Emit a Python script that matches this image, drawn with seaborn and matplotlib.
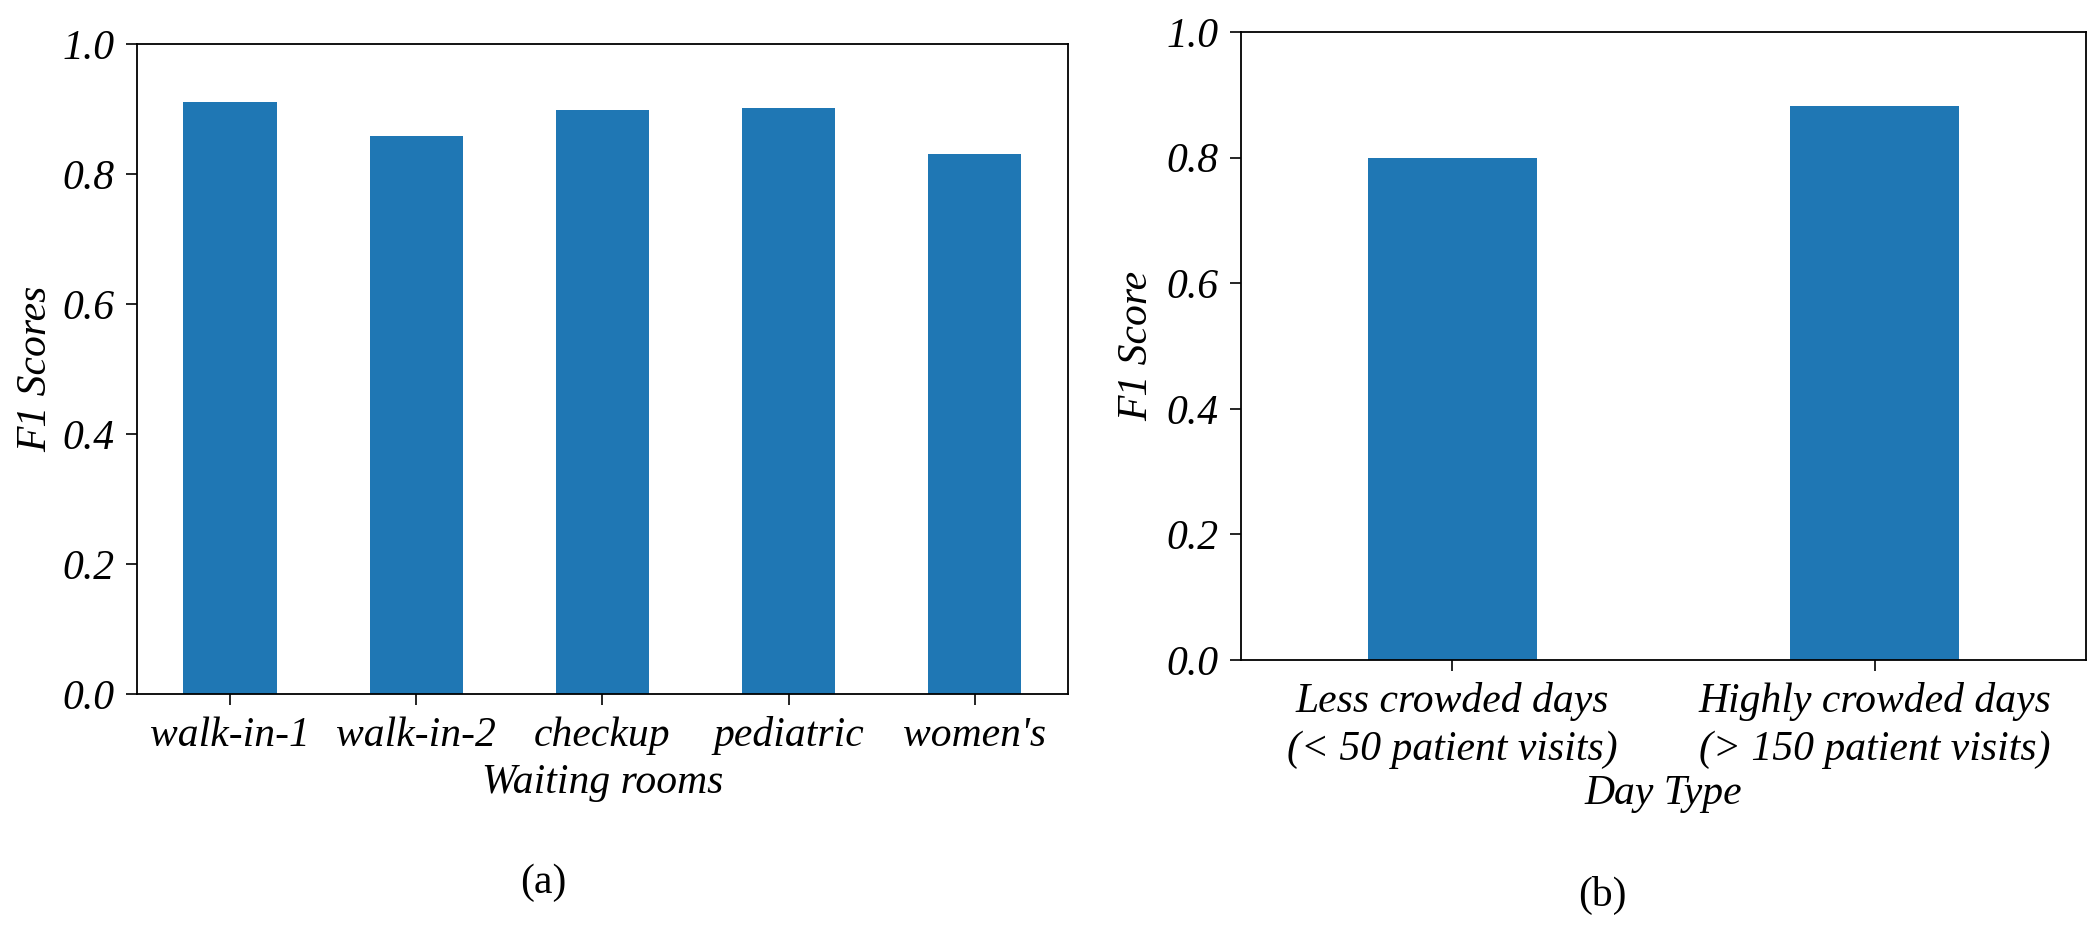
import matplotlib
matplotlib.use("Agg")
import matplotlib.pyplot as plt
import seaborn as sns

# Data
rooms = ["walk-in-1", "walk-in-2", "checkup", "pediatric", "women's"]
room_f1 = [0.911, 0.859, 0.898, 0.902, 0.831]

day_types = ["Less crowded days\n(< 50 patient visits)",
             "Highly crowded days\n(> 150 patient visits)"]
day_f1 = [0.800, 0.882]

yticks = [0.0, 0.2, 0.4, 0.6, 0.8, 1.0]
bar_color = "#1f77b4"
fs = 30

plt.rcParams["font.family"] = ["Liberation Serif", "DejaVu Serif"]
plt.rcParams["axes.linewidth"] = 1.3

fig = plt.figure(figsize=(21, 9.3), dpi=100)
ax1 = fig.add_axes([0.0652, 0.2538, 0.4433, 0.6989])
ax2 = fig.add_axes([0.5910, 0.2903, 0.4024, 0.6753])

# (a) waiting rooms
sns.barplot(x=rooms, y=room_f1, ax=ax1, color=bar_color, saturation=1,
            width=0.5, linewidth=0)
ax1.set_ylim(0, 1.0)
ax1.set_xlim(-0.5, len(rooms) - 0.5)
ax1.set_yticks(yticks)
ax1.set_yticklabels([f"{t:.1f}" for t in yticks])
ax1.set_xlabel("Waiting rooms", fontsize=fs, style="italic")
ax1.set_ylabel("F1 Scores", fontsize=fs, style="italic")
ax1.xaxis.set_label_coords(0.5, -0.107)
ax1.yaxis.set_label_coords(-0.088, 0.5)

# (b) day type
sns.barplot(x=day_types, y=day_f1, ax=ax2, color=bar_color, saturation=1,
            width=0.4, linewidth=0)
ax2.set_ylim(0, 1.0)
ax2.set_xlim(-0.5, len(day_types) - 0.5)
ax2.set_yticks(yticks)
ax2.set_yticklabels([f"{t:.1f}" for t in yticks])
ax2.set_xlabel("Day Type", fontsize=fs, style="italic")
ax2.set_ylabel("F1 Score", fontsize=fs, style="italic")
ax2.xaxis.set_label_coords(0.5, -0.183)
ax2.yaxis.set_label_coords(-0.1, 0.5)

for ax in (ax1, ax2):
    ax.tick_params(axis="both", direction="out", length=8, width=1.2,
                   labelsize=fs, pad=8)
    for lab in ax.get_xticklabels() + ax.get_yticklabels():
        lab.set_fontstyle("italic")
    for sp in ax.spines.values():
        sp.set_color("black")

for lab in ax2.get_xticklabels():
    lab.set_linespacing(1.3)

fig.text(543 / 2100, 1 - 883 / 930, "(a)", fontsize=fs, ha="center", va="center")
fig.text(1602 / 2100, 1 - 895 / 930, "(b)", fontsize=fs, ha="center", va="center")

fig.savefig("out.png", dpi=100, facecolor="white")
